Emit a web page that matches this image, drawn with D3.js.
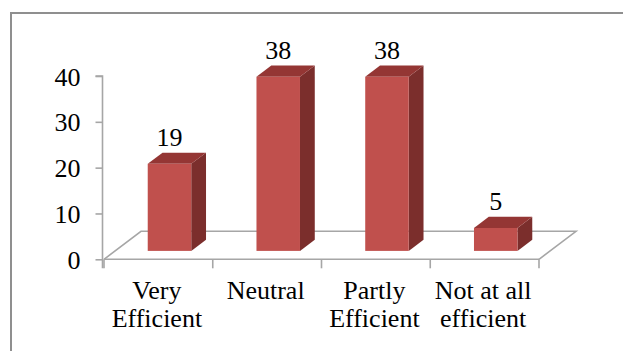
<!DOCTYPE html>
<html>
<head>
<meta charset="utf-8">
<script src="https://cdn.jsdelivr.net/npm/d3@7"></script>
<style>
  html, body { margin: 0; padding: 0; background: #fff; }
  svg { display: block; }
  text { font-family: "Liberation Serif", "Times New Roman", serif; fill: #000; }
</style>
</head>
<body>
<svg id="chart" width="623" height="351"></svg>
<script>
// Survey responses (count per category)
const categories = ["Very Efficient", "Neutral", "Partly Efficient", "Not at all efficient"];
const categoryLines = [["Very", "Efficient"], ["Neutral"], ["Partly", "Efficient"], ["Not at all", "efficient"]];
const values = [19, 38, 38, 5];
const yTicks = [0, 10, 20, 30, 40];

const svg = d3.select("#chart");
const W = 623, H = 351;

// Outer frame (only left and top edges fall inside the view)
svg.append("rect")
  .attr("x", 11).attr("y", 13)
  .attr("width", W + 20).attr("height", H + 20)
  .attr("fill", "none").attr("stroke", "#8f8f8f").attr("stroke-width", 2);

// Front plane of the 3-D plot area
const x0 = 104, x1 = 539;
const yBase = 259.3;
const x = d3.scaleBand().domain(categories).range([x0, x1])
  .paddingInner(0.6).paddingOuter(0.3);
const y = d3.scaleLinear().domain([0, 40]).range([yBase, 76]);

// Depth of the floor and where the bars sit within it
const depthX = 37, depthY = -28;
const barFront = 0.3, barBack = 0.7;
const off = t => [depthX * t, depthY * t];

const fontSize = 26;

// Floor outline
const floorColor = "#a6a6a6";
const [bx, by] = off(1);
svg.append("path")
  .attr("d", `M${x0},${yBase} L${x0 + bx},${yBase + by} L${x1 + bx},${yBase + by} L${x1},${yBase}`)
  .attr("fill", "none").attr("stroke", floorColor).attr("stroke-width", 1.6);

// Vertical axis
const yAxis = d3.axisLeft(y).tickValues(yTicks).tickSize(7).tickPadding(0).tickFormat(d3.format("d"));
const gy = svg.append("g").attr("transform", `translate(${x0 - 1.5},0)`).call(yAxis);
gy.select(".domain").attr("stroke", floorColor).attr("stroke-width", 1.6)
  .attr("d", `M-7,${y(40)}H0V${yBase + 9}`);
gy.selectAll(".tick line").attr("stroke", floorColor).attr("stroke-width", 1.6);
gy.selectAll(".tick text").remove();
gy.selectAll(".tick").append("text")
  .attr("text-anchor", "end")
  .attr("font-size", fontSize)
  .attr("x", -22).attr("y", 9)
  .text(d => d);

// Horizontal axis along the front edge of the floor
svg.append("line")
  .attr("x1", x0).attr("x2", x1).attr("y1", yBase).attr("y2", yBase)
  .attr("stroke", floorColor).attr("stroke-width", 1.6);
const tickXs = [x0].concat(categories.slice(1).map(c => x(c) - x.step() * 0.3), [x1]);
svg.selectAll(".xtick").data(tickXs).join("line")
  .attr("class", "xtick")
  .attr("x1", d => d).attr("x2", d => d)
  .attr("y1", yBase).attr("y2", yBase + 9)
  .attr("stroke", floorColor).attr("stroke-width", 1.6);

// Category labels
const lab = svg.selectAll(".cat").data(categories).join("g")
  .attr("class", "cat")
  .attr("transform", c => `translate(${x(c) + x.bandwidth() / 2 - 1.5},0)`);
lab.each(function(c, i) {
  const g = d3.select(this);
  categoryLines[i].forEach((line, j) => {
    g.append("text")
      .attr("text-anchor", "middle")
      .attr("font-size", fontSize)
      .attr("y", 299 + j * 28.3)
      .text(line);
  });
});

// 3-D bars: front, side and top faces
const frontCol = "#c0504d", sideCol = "#7b2e2c", topCol = "#943634";
const [fx, fy] = off(barFront);
const [kx, ky] = off(barBack);
const dx = kx - fx, dy = ky - fy;
const bars = svg.selectAll(".bar").data(categories).join("g").attr("class", "bar");
bars.each(function(c, i) {
  const g = d3.select(this);
  const l = x(c) + fx, r = l + x.bandwidth();
  const b = y(0) + fy, t = y(values[i]) + fy;
  g.append("path")
    .attr("d", `M${r},${b} L${r + dx},${b + dy} L${r + dx},${t + dy} L${r},${t} Z`)
    .attr("fill", sideCol);
  g.append("path")
    .attr("d", `M${l},${t} L${l + dx},${t + dy} L${r + dx},${t + dy} L${r},${t} Z`)
    .attr("fill", topCol);
  g.append("rect")
    .attr("x", l).attr("y", t).attr("width", r - l).attr("height", b - t)
    .attr("fill", frontCol);
  // value label above the bar
  g.append("text")
    .attr("text-anchor", "middle")
    .attr("font-size", fontSize)
    .attr("x", (l + r) / 2)
    .attr("y", t + dy - 7)
    .text(values[i]);
});
</script>
</body>
</html>
